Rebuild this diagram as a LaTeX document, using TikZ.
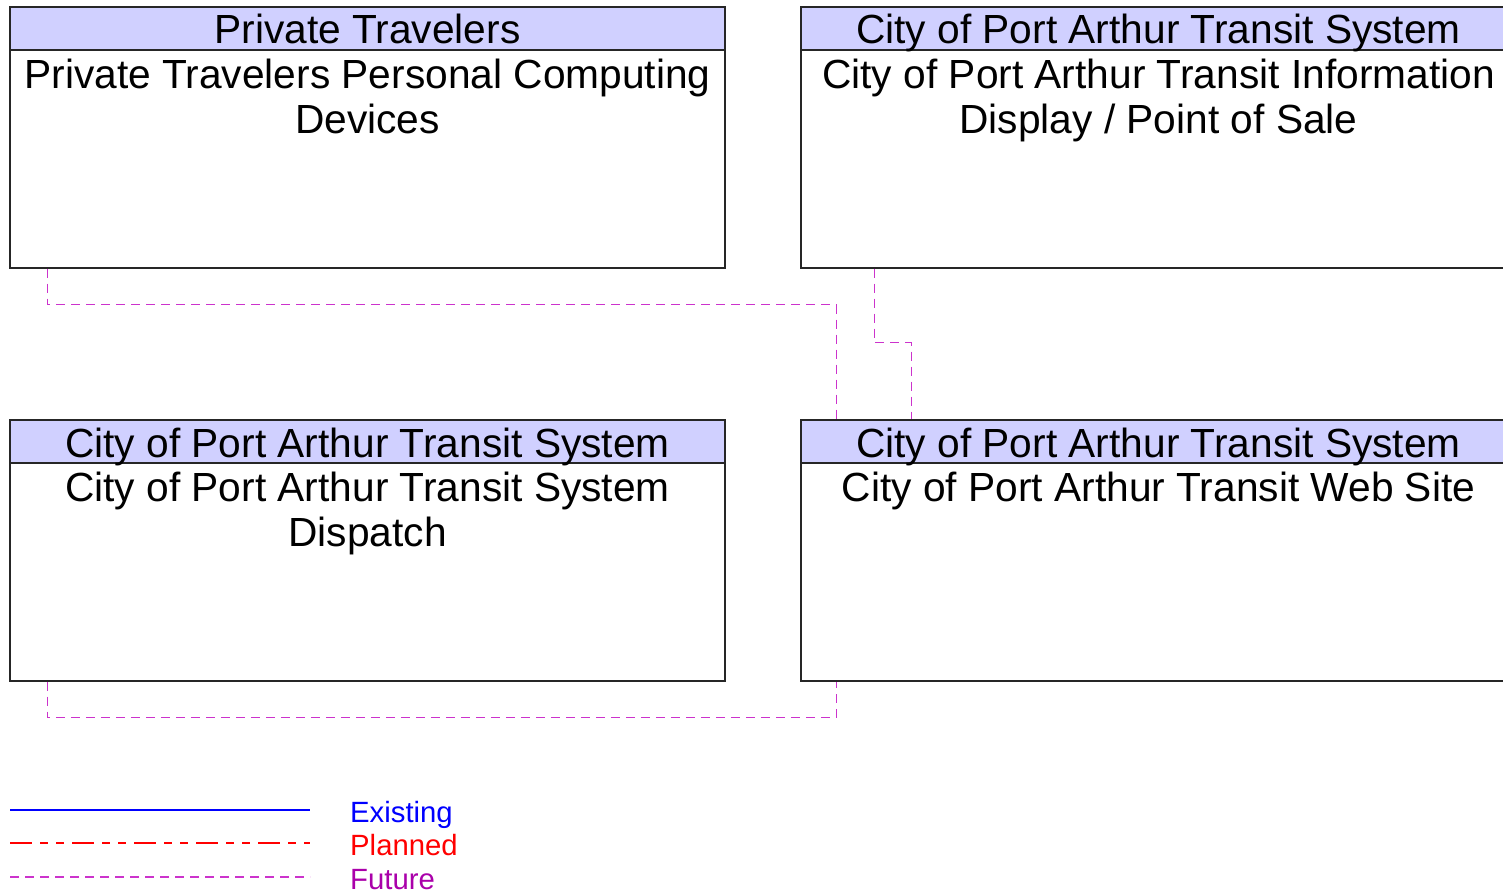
\documentclass[tikz,border=0pt]{standalone}
\usepackage{fontspec}
\setmainfont{Liberation Sans}
\usetikzlibrary{positioning}
\definecolor{headfill}{RGB}{208,208,255}
\definecolor{futurecol}{RGB}{204,51,204}
\definecolor{futuretext}{RGB}{170,0,170}

\begin{document}
\begin{tikzpicture}
	[x=1pt, y=-1pt,
	box/.style={draw=black!85,line width=1.3pt,minimum width=715pt,minimum height=261pt,inner sep=0pt},
	head/.style={draw=black!85,line width=1.3pt,fill=headfill,minimum width=715pt,text height=37pt,text depth=6pt,inner sep=0pt,font=\fontsize{40.7}{45}\selectfont},
	body/.style={align=center,inner sep=0pt,font=\fontsize{40.7}{45}\selectfont},
	future/.style={futurecol,line width=1.4pt,dash pattern=on 9pt off 6pt},
	planned/.style={red,line width=1.2pt,dash pattern=on 22pt off 8pt on 8pt off 8pt on 8pt off 8pt},
	existing/.style={blue,line width=1.6pt},
	legend/.style={anchor=base west,inner sep=0pt,font=\fontsize{29.3}{32}\selectfont}]
	\useasboundingbox (0,0) rectangle (1503,890);
	% boxes
	\node[box] (dev) at (367.5,137.5) {};
	\node[head,anchor=north] (devh) at (dev.north) {Private Travelers};
	\node[body,below=8pt of devh.south] (devt) {Private Travelers Personal Computing\\Devices};
	\node[box] (disp) at (1158.5,137.5) {};
	\node[head,anchor=north] (disph) at (disp.north) {City of Port Arthur Transit System};
	\node[body,below=8pt of disph.south] (dispt) {City of Port Arthur Transit Information\\Display / Point of Sale};
	\node[box] (dsp) at (367.5,550.5) {};
	\node[head,anchor=north] (dsph) at (dsp.north) {City of Port Arthur Transit System};
	\node[body,below=8pt of dsph.south] (dspt) {City of Port Arthur Transit System\\Dispatch};
	\node[box] (web) at (1158.5,550.5) {};
	\node[head,anchor=north] (webh) at (web.north) {City of Port Arthur Transit System};
	\node[body,below=8pt of webh.south] (webt) {City of Port Arthur Transit Web Site};
	% flows
	\draw[future] ([xshift=38pt]dev.south west) -- ++(0,36) -| ([xshift=36pt]web.north west);
	\draw[future] ([xshift=74pt]disp.south west) -- ++(0,74) -| ([xshift=111pt]web.north west);
	\draw[future] ([xshift=38pt]dsp.south west) -- ++(0,36) -| ([xshift=36pt]web.south west);
	% legend
	\coordinate (ex1) at (10,810);
	\coordinate (ex2) at (310,810);
	\coordinate (pl1) at (10,843);
	\coordinate (pl2) at (310,843);
	\coordinate (fu1) at (10,877);
	\coordinate (fu2) at (310,877);
	\draw[existing] (ex1) -- (ex2);
	\draw[planned] (pl1) -- (pl2);
	\draw[future] (fu1) -- (fu2);
	\node[legend,blue] (ext) at (350,822) {Existing};
	\node[legend,red] (plt) at (350,855) {Planned};
	\node[legend,futuretext] (fut) at (350,889) {Future};
\end{tikzpicture}
\end{document}
